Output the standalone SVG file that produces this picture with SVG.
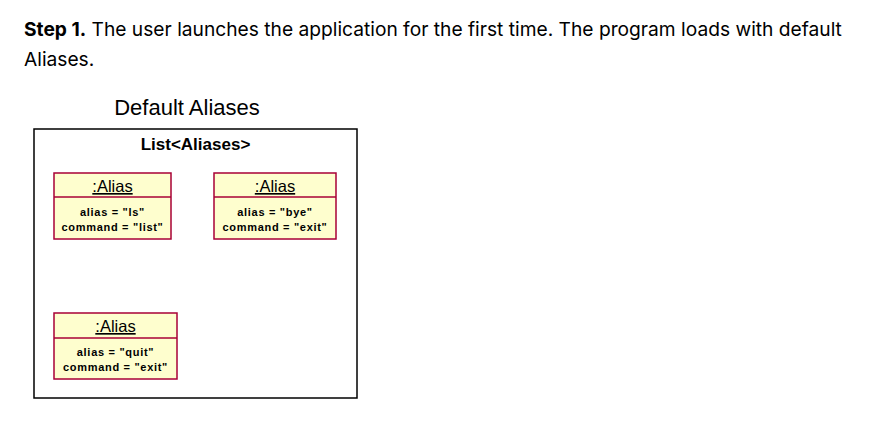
<svg xmlns="http://www.w3.org/2000/svg" width="869" height="421" viewBox="0 0 869 421">
<style>
.para{font-family:Inter,"Liberation Sans",sans-serif;font-size:19.2px;fill:#000}
.title{font-family:"Liberation Sans",Arial,sans-serif;font-size:22px;fill:#000;text-anchor:middle}
.frame{fill:#fff;stroke:#000;stroke-width:1.5}
.ftitle{font-family:"Liberation Sans",Arial,sans-serif;font-size:17px;font-weight:bold;fill:#000;text-anchor:middle}
.obj{fill:#FEFECE;stroke:#A80036;stroke-width:1.5}
.div{stroke:#A80036;stroke-width:1.5}
.oname{font-family:"Liberation Sans",Arial,sans-serif;font-size:16.5px;fill:#000;text-anchor:middle;text-decoration:underline}
.attr{font-family:"Liberation Sans",Arial,sans-serif;font-size:11px;font-weight:bold;fill:#000;text-anchor:middle;letter-spacing:0.7px}
</style>
<rect width="869" height="421" fill="#fff"/>
<text class="para" x="24" y="36"><tspan font-weight="bold">Step 1.</tspan> The user launches the application for the first time. The program loads with default</text>
<text class="para" x="24" y="66">Aliases.</text>
<text class="title" x="187" y="115">Default Aliases</text>
<g id="frame">
<rect class="frame" x="34" y="129" width="323" height="269"/>
<text class="ftitle" x="195.5" y="150">List&lt;Aliases&gt;</text>
</g>
<g id="alias1">
<rect class="obj" x="54" y="173" width="117" height="66"/>
<line class="div" x1="54" y1="197" x2="171" y2="197"/>
<text class="oname" x="112.5" y="192">:Alias</text>
<text class="attr" x="112.5" y="216">alias = "ls"</text>
<text class="attr" x="112.5" y="231">command = "list"</text>
</g>
<g id="alias2">
<rect class="obj" x="214" y="173" width="122" height="66"/>
<line class="div" x1="214" y1="197" x2="336" y2="197"/>
<text class="oname" x="275" y="192">:Alias</text>
<text class="attr" x="275" y="216">alias = "bye"</text>
<text class="attr" x="275" y="231">command = "exit"</text>
</g>
<g id="alias3">
<rect class="obj" x="54" y="313" width="123" height="66"/>
<line class="div" x1="54" y1="338" x2="177" y2="338"/>
<text class="oname" x="115.5" y="332">:Alias</text>
<text class="attr" x="115.5" y="356">alias = "quit"</text>
<text class="attr" x="115.5" y="371">command = "exit"</text>
</g>
<g id="connectors"></g>
</svg>
